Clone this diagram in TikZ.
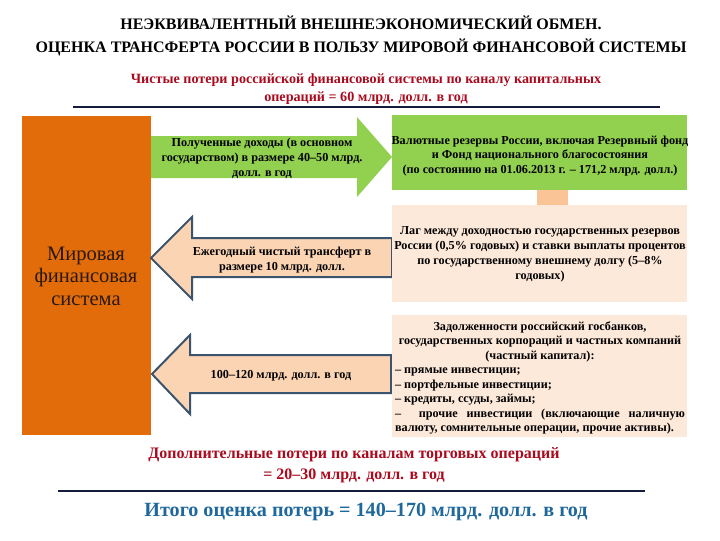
\documentclass[tikz,border=0pt]{standalone}
\usepackage{fontspec}
\setmainfont{Liberation Serif}
\usetikzlibrary{positioning}

\definecolor{orng}{RGB}{227,108,10}
\definecolor{grn}{RGB}{146,208,80}
\definecolor{pch}{RGB}{251,212,180}
\definecolor{pchlt}{RGB}{253,233,217}
\definecolor{pchdk}{RGB}{250,196,150}
\definecolor{edg}{RGB}{59,84,110}
\definecolor{navy}{RGB}{20,28,58}
\definecolor{drkred}{RGB}{170,10,30}
\definecolor{itblue}{RGB}{31,104,156}

\tikzset{
  ttl/.style={inner sep=0.75pt, align=center, font=\bfseries\fontsize{12}{17}\selectfont},
  redtxt/.style={inner sep=0.75pt, align=center, text=drkred, font=\bfseries\fontsize{10.6}{13.5}\selectfont},
  bodytxt/.style={inner sep=0.75pt, align=center, font=\bfseries\fontsize{9.15}{11.2}\selectfont},
  rule/.style={draw=navy, line width=1.6pt},
  arrl/.style={fill=pch, draw=edg, line width=1.5pt, line join=miter}
}

\begin{document}
\begin{tikzpicture}[x=0.75pt,y=0.75pt,yscale=-1,xscale=1]
\useasboundingbox (0,0) rectangle (720,540);

% Text Node
\node [ttl] (title) at (361,36) {НЕЭКВИВАЛЕНТНЫЙ ВНЕШНЕЭКОНОМИЧЕСКИЙ ОБМЕН.\\ОЦЕНКА ТРАНСФЕРТА РОССИИ В ПОЛЬЗУ МИРОВОЙ ФИНАНСОВОЙ СИСТЕМЫ};
% Text Node
\node [redtxt] (netloss) at (366,89) {Чистые потери российской финансовой системы по каналу капитальных\\операций = 60 млрд. долл. в год};
%Straight Lines
\coordinate (rulea) at (73,107);
\coordinate (ruleb) at (660,107);
\draw [rule] (rulea) -- (ruleb);

%Shape: Rectangle
\draw [fill=orng, draw=none] (22,116) rectangle (151,435);
% Text Node
\node [inner sep=0.75pt, align=center, text={rgb,255:red,40;green,25;blue,15}, font=\fontsize{15.4}{16.9}\selectfont] (world) at (86,276) {Мировая\\финансовая\\система};

%Shape: Right Arrow
\draw [fill=grn, draw=none] (151,136) -- (357,136) -- (357,117) -- (392,157) -- (357,197) -- (357,178) -- (151,178) -- cycle;
% Text Node
\node [bodytxt] (income) at (262,158) {Полученные доходы (в основном\\государством) в размере 40–50 млрд.\\долл. в год};

%Shape: Left Arrow
\draw [arrl] (392,238) -- (192,238) -- (192,217) -- (151,258) -- (192,299) -- (192,277) -- (392,277) -- cycle;
% Text Node
\node [bodytxt] (transfer) at (282,260) {Ежегодный чистый трансферт в\\размере 10 млрд. долл.};

%Shape: Left Arrow
\draw [arrl] (391,355) -- (190,355) -- (190,335) -- (152,374) -- (190,414) -- (190,393) -- (391,393) -- cycle;
% Text Node
\node [bodytxt] (outflow) at (281,376) {100–120 млрд. долл. в год};

%Shape: Rectangle
\draw [fill=grn, draw=none] (392,115) rectangle (687,190);
% Text Node
\node [bodytxt] (reserves) at (540,156) {Валютные резервы России, включая Резервный фонд\\и Фонд национального благосостояния\\(по состоянию на 01.06.2013 г. – 171,2 млрд. долл.)};

%Shape: Rectangle
\draw [fill=pchdk, draw=none] (537,190) rectangle (568,205);

%Shape: Rectangle
\draw [fill=pchlt, draw=none] (392,205) rectangle (687,302);
% Text Node
\node [bodytxt] (lag) at (540,254) {Лаг между доходностью государственных резервов\\России (0,5\% годовых) и ставки выплаты процентов\\по государственному внешнему долгу (5–8\%\\годовых)};

%Shape: Rectangle
\draw [fill=pchlt, draw=none] (392,315) rectangle (687,437);
% Text Node
\node [bodytxt, font=\bfseries\fontsize{9.15}{10.9}\selectfont, text width=290*0.75pt, align=justify] (debt) at (540,378) {{\centering Задолженности российский госбанков,\\государственных корпораций и частных компаний\\(частный капитал):\par}
– прямые инвестиции;\newline
– портфельные инвестиции;\newline
– кредиты, ссуды, займы;\newline
– \ прочие инвестиции (включающие наличную\linebreak валюту, сомнительные операции, прочие активы).};

% Text Node
\node [redtxt, font=\bfseries\fontsize{12}{15.6}\selectfont] (trade) at (354,465) {Дополнительные потери по каналам торговых операций\\= 20–30 млрд. долл. в год};
%Straight Lines
\coordinate (rulec) at (58,491);
\coordinate (ruled) at (645,491);
\draw [rule] (rulec) -- (ruled);
% Text Node
\node [inner sep=0.75pt, text=itblue, font=\bfseries\fontsize{15.1}{17}\selectfont] (total) at (366,512) {Итого оценка потерь = 140–170 млрд. долл. в год};

\end{tikzpicture}
\end{document}
